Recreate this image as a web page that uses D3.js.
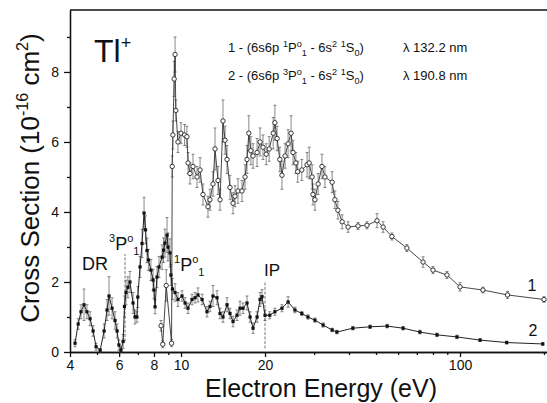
<!DOCTYPE html>
<meta charset="utf-8">
<style>
    body { margin: 0; background: white; }
    text { font-family: "Liberation Sans", Arial, sans-serif; fill: #111; }
    .axis path, .axis line { stroke: #111; stroke-width: 1.3px; }
    .axis text { font-size: 14px; }
</style>
<body>
<script src="https://d3js.org/d3.v7.min.js"></script>
<script>
    var width = 547,
        height = 403;

    // series 1 - open circles (6s6p 1P1 - 6s2 1S0)
    var e1 = [8.48, 8.6, 8.85, 9.25, 9.3, 9.35, 9.45, 9.52, 9.58, 9.75, 10.0, 10.3, 10.5, 10.6, 10.77, 11.04, 11.41, 11.7, 11.99,
        12.49, 12.7, 13.02, 13.24, 13.57, 13.8, 14.14, 14.38, 14.62, 14.98, 15.36, 15.61, 16.0, 16.54, 16.96, 17.24, 17.5, 17.8,
        18.12, 18.73, 19.2, 19.67, 20.2, 20.7, 21.4, 21.7, 22.1, 22.6, 23.0, 23.6, 24.2, 24.8, 25.2, 25.8, 26.2, 27.1, 28.3, 28.8,
        29.5, 29.7, 30.2, 31.0, 32.0, 32.8, 34.8, 35.6, 36.5, 37.8, 39.7, 43.1, 46.4, 50.4, 53.0, 57.0, 64.5, 73.7, 80.0, 89.8,
        100, 120.8, 148, 200];
    var y1 = [0.75, 0.22, 1.9, 0.25, 5.3, 6.2, 7.8, 8.5, 6.9, 6.0, 6.25, 6.2, 6.15, 5.4, 5.1, 5.3, 5.0, 5.2, 4.5,
        4.15, 4.35, 4.8, 5.8, 4.9, 4.35, 6.6, 6.05, 5.5, 4.7, 4.25, 4.45, 4.6, 4.6, 5.0, 5.5, 6.25, 5.75,
        5.6, 5.7, 6.0, 5.85, 5.65, 5.8, 6.25, 6.55, 6.1, 5.5, 5.05, 5.6, 5.95, 6.25, 5.7, 5.4, 5.15, 5.2, 5.35, 5.4,
        5.0, 4.5, 4.35, 4.8, 5.3, 5.0, 4.85, 4.35, 4.05, 3.72, 3.57, 3.6, 3.62, 3.75, 3.57, 3.3, 2.97, 2.57, 2.34, 2.2,
        1.86, 1.77, 1.63, 1.5];
    var err1 = [0.15, 0.1, 0.45, 0.1, 0.3, 0.4, 0.5, 0.5, 0.3, 0.3, 0.3, 0.3, 0.3, 0.3, 0.3, 0.35, 0.3, 0.35, 0.3,
        0.3, 0.3, 0.35, 0.6, 0.4, 0.3, 0.6, 0.4, 0.4, 0.35, 0.3, 0.3, 0.35, 0.3, 0.35, 0.4, 0.5, 0.4,
        0.35, 0.4, 0.4, 0.35, 0.3, 0.35, 0.45, 0.5, 0.35, 0.35, 0.4, 0.35, 0.4, 0.5, 0.35, 0.3, 0.3, 0.3, 0.35, 0.45,
        0.35, 0.3, 0.3, 0.3, 0.35, 0.3, 0.3, 0.25, 0.25, 0.2, 0.15, 0.1, 0.1, 0.2, 0.15, 0.1, 0.1, 0.15, 0.1, 0.1,
        0.12, 0.08, 0.1, 0.08];

    // series 2 - filled points (6s6p 3P1 - 6s2 1S0)
    var e2 = [4.17, 4.28, 4.38, 4.49, 4.6, 4.72, 4.84, 4.96, 5.13, 5.3, 5.43, 5.52, 5.66, 5.8, 5.9, 5.99, 6.09, 6.2, 6.27,
        6.35, 6.45, 6.56, 6.73, 6.84, 6.95, 7.0, 7.13, 7.25, 7.37, 7.46, 7.55, 7.64, 7.8, 7.94, 8.0, 8.07, 8.2, 8.34,
        8.55, 8.66, 8.76, 8.91, 8.98, 9.13, 9.2, 9.32, 9.52, 9.75, 10.08, 10.34, 10.59, 10.95, 11.23, 11.5, 11.9, 12.39,
        12.7, 13.02, 13.46, 13.8, 14.14, 14.62, 14.98, 15.36, 15.87, 16.27, 16.68, 17.24, 17.68, 18.12, 18.73, 19.2, 19.51,
        20.0, 20.8, 21.7, 23.0, 24.2, 25.6, 27.1, 28.5, 30.2, 32.3, 34.8, 36.2, 41.3, 47.6, 54.8, 62.5, 71.8, 82.7, 97.5,
        118, 147, 198];
    var y2 = [0.25, 0.8, 1.15, 1.35, 1.15, 0.95, 0.6, 0.15, 0.05, 0.6, 1.2, 1.6, 1.25, 0.9, 0.6, 0.2, 0.05, 0.3, 1.3,
        1.7, 1.85, 2.0, 1.4, 1.0, 1.0, 1.57, 2.43, 3.1, 3.97, 3.49, 2.9, 2.63, 2.34, 2.06, 1.77, 1.29, 2.14, 2.43,
        2.71, 2.91, 3.11, 3.34, 3.0, 2.83, 2.2, 1.8, 1.7, 1.5, 1.6, 1.4, 1.25, 1.5, 1.55, 1.63, 1.5, 1.15,
        1.3, 1.6, 1.55, 1.1, 1.0, 1.35, 1.1, 0.87, 1.05, 1.25, 1.25, 1.4, 1.0, 0.68, 1.0, 1.5, 1.58,
        1.05, 1.05, 1.15, 1.25, 1.43, 1.2, 1.1, 1.0, 0.91, 0.77, 0.63, 0.57, 0.68, 0.72, 0.74, 0.68, 0.57, 0.49, 0.43,
        0.34, 0.27, 0.23];
    var err2 = [0.1, 0.15, 0.2, 0.45, 0.2, 0.2, 0.15, 0.1, 0.05, 0.2, 0.3, 0.55, 0.3, 0.25, 0.2, 0.15, 0.1, 0.2, 0.3,
        0.35, 0.3, 0.3, 0.3, 0.2, 0.15, 0.3, 0.3, 0.4, 0.45, 0.4, 0.35, 0.3, 0.3, 0.3, 0.25, 0.2, 0.3, 0.3,
        0.35, 0.35, 0.4, 0.5, 0.4, 0.4, 0.3, 0.3, 0.25, 0.2, 0.15, 0.15, 0.15, 0.15, 0.15, 0.2, 0.15, 0.15,
        0.15, 0.3, 0.2, 0.15, 0.15, 0.2, 0.15, 0.15, 0.15, 0.2, 0.15, 0.2, 0.15, 0.15, 0.15, 0.2, 0.2,
        0.15, 0.1, 0.1, 0.1, 0.15, 0.08, 0.06, 0.06, 0.06, 0.06, 0.05, 0.05, 0.05, 0.05, 0.05, 0.05, 0.05, 0.05, 0.05,
        0.04, 0.04, 0.04];

    // marker lines (3P1 threshold, ionisation potential)
    var markE = [6.3, 20];
    var markLo = [0.3, 0.1];
    var markHi = [2.8, 2.0];

    var xTicks = [4, 6, 8, 10, 20, 100],
        xMinor = [5, 7, 9, 30, 40, 50, 60, 70, 80, 90, 200],
        yTicks = [0, 2, 4, 6, 8],
        yMinor = [1, 3, 5, 7, 9];

    var x = d3.scaleLog().domain([4, 205]).range([70, 547]);
    var y = d3.scaleLinear().domain([0, 9.77]).range([352, 10]);

    var svg = d3.select("body").append("svg")
        .attr("width", width)
        .attr("height", height);

    // text with super/subscripts built from tspans
    function rich(t, parts) {
        var cur = 0;
        parts.forEach(function(p) {
            var lvl = p[1], fs = p[2];
            var shift = lvl == 1 ? -0.42 : (lvl == -1 ? 0.3 : 0);
            var size = fs || (lvl == 0 ? null : "62%");
            var ts = t.append("tspan").text(p[0]);
            if (size) ts.style("font-size", size);
            var base = parseFloat(t.style("font-size"));
            ts.attr("dy", ((shift - cur) * base).toFixed(2));
            cur = shift;
        });
    }

    // axes
    svg.append("g").attr("class", "axis")
        .attr("transform", "translate(0,352)")
        .call(d3.axisBottom(x).tickValues(xTicks).tickFormat(d3.format("d")).tickSize(5).tickSizeOuter(0).tickPadding(3));
    svg.append("g").attr("class", "axis")
        .attr("transform", "translate(0,352)")
        .call(d3.axisBottom(x).tickValues(xMinor).tickFormat("").tickSize(3).tickSizeOuter(0));
    svg.append("g").attr("class", "axis")
        .attr("transform", "translate(70,0)")
        .call(d3.axisLeft(y).tickValues(yTicks).tickSize(6).tickSizeOuter(0).tickPadding(5));
    svg.append("g").attr("class", "axis")
        .attr("transform", "translate(70,0)")
        .call(d3.axisLeft(y).tickValues(yMinor).tickFormat("").tickSize(3).tickSizeOuter(0));
    svg.append("line")
        .attr("x1", 70).attr("x2", 547).attr("y1", 10).attr("y2", 10)
        .style("stroke", "#111").style("stroke-width", 1.3);

    var g = svg.append("g");

    var d1 = d3.zip(e1, y1, err1),
        d2 = d3.zip(e2, y2, err2);

    var line = d3.line()
        .x(function(d) { return x(d[0]); })
        .y(function(d) { return y(d[1]); });

    // marker lines
    d3.range(markE.length).forEach(function(i) {
        g.append("line")
            .attr("x1", x(markE[i])).attr("x2", x(markE[i]))
            .attr("y1", y(markLo[i])).attr("y2", y(markHi[i]))
            .style("stroke", "#555").style("stroke-width", 0.8)
            .style("stroke-dasharray", "3,1.5");
    });

    function errorBars(data) {
        var eb = g.append("g").style("stroke", "#555").style("stroke-width", 0.7);
        data.forEach(function(d) {
            var cx = x(d[0]);
            eb.append("line").attr("x1", cx).attr("x2", cx)
                .attr("y1", y(Math.max(0, d[1] - d[2]))).attr("y2", y(d[1] + d[2]));
            eb.append("line").attr("x1", cx - 1.5).attr("x2", cx + 1.5)
                .attr("y1", y(d[1] + d[2])).attr("y2", y(d[1] + d[2]));
            eb.append("line").attr("x1", cx - 1.5).attr("x2", cx + 1.5)
                .attr("y1", y(Math.max(0, d[1] - d[2]))).attr("y2", y(Math.max(0, d[1] - d[2])));
        });
    }

    errorBars(d1);
    errorBars(d2);

    g.append("path").datum(d1).attr("d", line)
        .style("fill", "none").style("stroke", "#333").style("stroke-width", 0.9);
    g.append("path").datum(d2).attr("d", line)
        .style("fill", "none").style("stroke", "#222").style("stroke-width", 1);

    g.selectAll("circle")
        .data(d1)
        .enter()
        .append("circle")
        .attr("cx", function(d) { return x(d[0]); })
        .attr("cy", function(d) { return y(d[1]); })
        .attr("r", 2.2)
        .style("fill", "white")
        .style("stroke", "#222")
        .style("stroke-width", 0.9);

    g.selectAll("rect")
        .data(d2)
        .enter()
        .append("rect")
        .attr("x", function(d) { return x(d[0]) - 1.6; })
        .attr("y", function(d) { return y(d[1]) - 1.6; })
        .attr("width", 3.2)
        .attr("height", 3.2)
        .style("fill", "#111");

    // axis titles
    svg.append("text")
        .attr("x", 321).attr("y", 397)
        .attr("text-anchor", "middle")
        .style("font-size", "25px")
        .text("Electron Energy (eV)");

    var yt = svg.append("text")
        .attr("transform", "translate(39,178) rotate(-90)")
        .attr("text-anchor", "middle")
        .style("font-size", "26px");
    rich(yt, [["Cross Section (10", 0], ["-16", 1], [" cm", 0], ["2", 1], [")", 0]]);

    // ion label
    var ion = svg.append("text").attr("x", 94).attr("y", 62).style("font-size", "32px");
    rich(ion, [["Tl", 0], ["+", 1, "18px"]]);

    // legend
    var leg1 = svg.append("text").attr("x", 228).attr("y", 52).style("font-size", "13px");
    rich(leg1, [["1 - (6s6p  ", 0], ["1", 1, "70%"], ["P", 0], ["o", 1, "70%"], ["1", -1, "70%"], [" - 6s", 0], ["2", 1, "70%"], [" ", 0], ["1", 1, "70%"], ["S", 0], ["0", -1, "70%"], [")", 0]]);
    svg.append("text").attr("x", 403).attr("y", 52).style("font-size", "13px").text("\u03bb 132.2 nm");

    var leg2 = svg.append("text").attr("x", 228).attr("y", 80).style("font-size", "13px");
    rich(leg2, [["2 - (6s6p  ", 0], ["3", 1, "70%"], ["P", 0], ["o", 1, "70%"], ["1", -1, "70%"], [" - 6s", 0], ["2", 1, "70%"], [" ", 0], ["1", 1, "70%"], ["S", 0], ["0", -1, "70%"], [")", 0]]);
    svg.append("text").attr("x", 403).attr("y", 80).style("font-size", "13px").text("\u03bb 190.8 nm");

    // annotations
    svg.append("text").attr("x", 82).attr("y", 270).style("font-size", "18px").text("DR");
    var p3 = svg.append("text").attr("x", 109).attr("y", 250).style("font-size", "18px");
    rich(p3, [["3", 1, "11px"], ["P", 0], ["o", 1, "11px"], ["1", -1, "11px"]]);
    var p1 = svg.append("text").attr("x", 174).attr("y", 271).style("font-size", "18px");
    rich(p1, [["1", 1, "11px"], ["P", 0], ["o", 1, "11px"], ["1", -1, "11px"]]);
    svg.append("text").attr("x", 272).attr("y", 276).attr("text-anchor", "middle").style("font-size", "17px").text("IP");
    svg.append("text").attr("x", 532).attr("y", 291).attr("text-anchor", "middle").style("font-size", "16px").text("1");
    svg.append("text").attr("x", 533).attr("y", 336).attr("text-anchor", "middle").style("font-size", "16px").text("2");
</script>
</body>
</html>
